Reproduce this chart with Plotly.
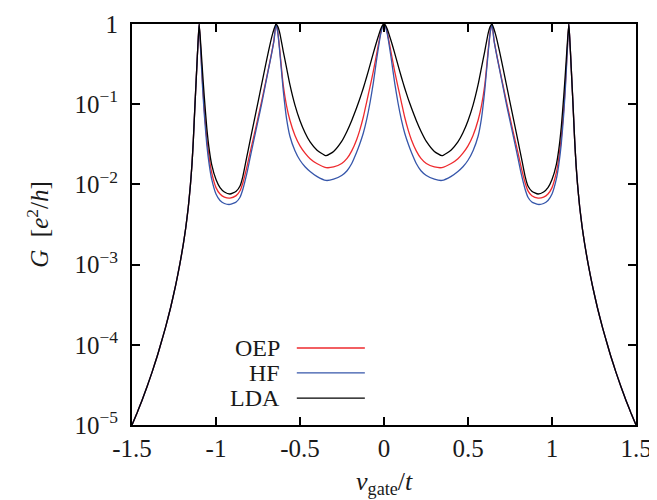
import plotly.graph_objects as go

# ---------------- data ----------------
# gate voltage grid: outer left tail, left half core, right half core, outer right tail
X_TAIL_LEFT = [-1.500, -1.470, -1.440, -1.410, -1.380, -1.350, -1.330, -1.300, -1.270, -1.240,
               -1.215, -1.195, -1.180, -1.165, -1.152, -1.143, -1.135, -1.125, -1.118, -1.111, -1.105]
X_CORE_LEFT = [-1.100, -1.090, -1.080, -1.070, -1.055, -1.040, -1.026, -1.000, -0.976, -0.950, -0.917,
               -0.880, -0.857, -0.840, -0.817, -0.798, -0.775, -0.748, -0.728, -0.708, -0.688, -0.668, -0.655, -0.643,
               -0.632, -0.620, -0.600, -0.580, -0.560, -0.530, -0.500, -0.470, -0.440, -0.400, -0.345,
               -0.300, -0.252, -0.220, -0.192, -0.163, -0.145, -0.123, -0.103, -0.083, -0.064, -0.043, -0.020, -0.010, 0.000]
X_CORE_RIGHT = [0.010, 0.020, 0.043, 0.064, 0.083, 0.103, 0.123, 0.145, 0.163, 0.192, 0.220, 0.252, 0.300,
                0.345, 0.400, 0.440, 0.470, 0.500, 0.530, 0.560, 0.580, 0.600, 0.620, 0.632,
                0.643, 0.655, 0.668, 0.688, 0.708, 0.728, 0.748, 0.775, 0.798, 0.817, 0.840, 0.857, 0.880,
                0.917, 0.950, 0.976, 1.000, 1.026, 1.040, 1.055, 1.070, 1.080, 1.090, 1.100]
X_TAIL_RIGHT = [1.105, 1.111, 1.118, 1.125, 1.135, 1.143, 1.152, 1.165, 1.180, 1.195, 1.215,
                1.240, 1.270, 1.300, 1.330, 1.350, 1.380, 1.410, 1.440, 1.470, 1.500]

# outer band-edge tails (identical for all three methods), G in e^2/h
G_TAIL_LEFT = [1.00e-5, 1.41e-5, 2.04e-5, 3.02e-5, 4.60e-5, 7.21e-5, 1.00e-4, 1.66e-4, 2.92e-4, 5.56e-4,
               1.02e-3, 1.78e-3, 2.88e-3, 5.19e-3, 1.00e-2, 1.79e-2, 3.53e-2, 0.100, 0.200, 0.398, 0.692]
G_TAIL_RIGHT = [0.692, 0.398, 0.200, 0.100, 3.53e-2, 1.79e-2, 1.00e-2, 5.19e-3, 2.88e-3, 1.78e-3, 1.02e-3,
                5.56e-4, 2.92e-4, 1.66e-4, 1.00e-4, 7.21e-5, 4.60e-5, 3.02e-5, 2.04e-5, 1.41e-5, 1.00e-5]

# LDA
LDA_LEFT = [1.0, 0.525, 0.251, 0.126, 0.0513, 0.0269, 0.0178, 0.0115, 0.00912, 0.00804, 0.00759,
            0.00822, 0.00955, 0.0126, 0.0219, 0.0343, 0.0589, 0.111, 0.178, 0.285, 0.452, 0.692, 0.861, 1.0,
            0.927, 0.764, 0.460, 0.284, 0.175, 0.0973, 0.0621, 0.0440, 0.0338, 0.0269, 0.0228,
            0.0258, 0.0344, 0.0461, 0.0628, 0.0902, 0.115, 0.159, 0.220, 0.309, 0.431, 0.610, 0.861, 0.955, 1.0]
LDA_RIGHT = [0.955, 0.861, 0.610, 0.431, 0.309, 0.220, 0.159, 0.115, 0.0902, 0.0628, 0.0461, 0.0344, 0.0258,
             0.0228, 0.0269, 0.0338, 0.0440, 0.0621, 0.0973, 0.175, 0.284, 0.460, 0.764, 0.927,
             1.0, 0.861, 0.692, 0.452, 0.285, 0.178, 0.111, 0.0589, 0.0343, 0.0219, 0.0126, 0.00955, 0.00822,
             0.00759, 0.00804, 0.00912, 0.0115, 0.0178, 0.0269, 0.0513, 0.126, 0.251, 0.525, 1.0]

# OEP
OEP_LEFT = [1.0, 0.437, 0.182, 0.0871, 0.0372, 0.0209, 0.0141, 0.00912, 0.00759, 0.00695, 0.00676,
            0.00724, 0.00832, 0.0105, 0.0162, 0.0245, 0.0398, 0.0708, 0.110, 0.174, 0.275, 0.447, 0.631, 1.0,
            0.794, 0.468, 0.174, 0.0955, 0.0631, 0.0407, 0.0302, 0.0245, 0.0209, 0.0182, 0.0162,
            0.0165, 0.0182, 0.0211, 0.0262, 0.0361, 0.0468, 0.0692, 0.107, 0.166, 0.254, 0.432, 0.776, 0.923, 1.0]
OEP_RIGHT = [0.923, 0.776, 0.432, 0.254, 0.166, 0.107, 0.0692, 0.0468, 0.0361, 0.0262, 0.0211, 0.0182, 0.0165,
             0.0162, 0.0182, 0.0209, 0.0245, 0.0302, 0.0407, 0.0631, 0.0955, 0.174, 0.468, 0.794,
             1.0, 0.631, 0.447, 0.275, 0.174, 0.110, 0.0708, 0.0398, 0.0245, 0.0162, 0.0105, 0.00832, 0.00724,
             0.00676, 0.00695, 0.00759, 0.00912, 0.0141, 0.0209, 0.0372, 0.0871, 0.182, 0.437, 1.0]

# HF
HF_LEFT = [1.0, 0.417, 0.162, 0.0759, 0.0316, 0.0174, 0.0117, 0.00759, 0.00631, 0.00578, 0.00562,
           0.00603, 0.00692, 0.00871, 0.0135, 0.0209, 0.0355, 0.0646, 0.102, 0.166, 0.269, 0.437, 0.617, 1.0,
           0.776, 0.437, 0.151, 0.0661, 0.0398, 0.0263, 0.0200, 0.0166, 0.0145, 0.0126, 0.0112,
           0.0116, 0.0129, 0.0148, 0.0182, 0.0251, 0.0316, 0.0437, 0.0646, 0.105, 0.182, 0.372, 0.741, 0.912, 1.0]
HF_RIGHT = [0.912, 0.741, 0.372, 0.182, 0.105, 0.0646, 0.0437, 0.0316, 0.0251, 0.0182, 0.0148, 0.0129, 0.0116,
            0.0112, 0.0126, 0.0145, 0.0166, 0.0200, 0.0263, 0.0398, 0.0661, 0.151, 0.437, 0.776,
            1.0, 0.617, 0.437, 0.269, 0.166, 0.102, 0.0646, 0.0355, 0.0209, 0.0135, 0.00871, 0.00692, 0.00603,
            0.00562, 0.00578, 0.00631, 0.00759, 0.0117, 0.0174, 0.0316, 0.0759, 0.162, 0.417, 1.0]

X_TICKS = [-1.5, -1.0, -0.5, 0.0, 0.5, 1.0, 1.5]
X_TICK_TEXT = ["-1.5", "-1", "-0.5", "0", "0.5", "1", "1.5"]
Y_TICKS = [1e-5, 1e-4, 1e-3, 1e-2, 1e-1, 1]
Y_TICK_TEXT = ["10<sup>−5</sup>", "10<sup>−4</sup>", "10<sup>−3</sup>",
               "10<sup>−2</sup>", "10<sup>−1</sup>", "1"]

SERIES = [("OEP", OEP_LEFT, OEP_RIGHT, "#ee2a2e"),
          ("HF", HF_LEFT, HF_RIGHT, "#3656aa"),
          ("LDA", LDA_LEFT, LDA_RIGHT, "#000000")]

# ---------------- figure ----------------
x_all = X_TAIL_LEFT + X_CORE_LEFT + X_CORE_RIGHT + X_TAIL_RIGHT
FONT = "Liberation Serif"
TXT = "#1a1a1a"

fig = go.Figure()
for name, core_l, core_r, col in SERIES:
    g = G_TAIL_LEFT + core_l + core_r + G_TAIL_RIGHT
    assert len(g) == len(x_all), (name, len(g), len(x_all))
    fig.add_trace(go.Scatter(x=x_all, y=g, mode="lines", name=name,
                             line=dict(color=col, width=1.3, shape="spline", smoothing=0.5),
                             showlegend=False))

axis_common = dict(showline=True, linewidth=2, linecolor="black", mirror="allticks",
                   ticks="inside", ticklen=8, tickwidth=2, tickcolor="black",
                   showgrid=False, zeroline=False, automargin=False,
                   tickfont=dict(family=FONT, size=25, color=TXT))

fig.update_xaxes(range=[-1.5, 1.5], tickvals=X_TICKS, ticktext=X_TICK_TEXT,
                 ticklabelstandoff=0, **axis_common)
fig.update_yaxes(type="log", range=[-5, 0], tickvals=Y_TICKS, ticktext=Y_TICK_TEXT,
                 ticklabelstandoff=7, **axis_common)

annotations = [
    dict(text="<i>v</i><sub>gate</sub>/<i>t</i>", x=0.5, y=-0.100, xref="paper", yref="paper",
         xanchor="center", yanchor="top", showarrow=False,
         font=dict(family=FONT, size=26, color=TXT)),
    dict(text="<i>G</i>  [<i>e</i><sup>2</sup>/<i>h</i>]", x=-0.188, y=0.5, xref="paper", yref="paper",
         xanchor="center", yanchor="middle", textangle=-90, showarrow=False,
         font=dict(family=FONT, size=25, color=TXT)),
]
shapes = []
legend_y = [0.192, 0.130, 0.067]
for (name, _, _, col), ly in zip(SERIES, legend_y):
    annotations.append(dict(text=name, x=0.298, y=ly, xref="paper", yref="paper",
                            xanchor="right", yanchor="middle", showarrow=False,
                            font=dict(family=FONT, size=24, color=TXT)))
    shapes.append(dict(type="line", xref="paper", yref="paper", x0=0.327, x1=0.462,
                       y0=ly, y1=ly, line=dict(color=col, width=1.3)))

# the page adds an 8 px body margin; size and margins compensate so the plot box
# lands at the same pixels as in the reference (x 132..636, y 24..425)
fig.update_layout(width=649, height=492,
                  margin=dict(l=124, r=21, t=16, b=75, autoexpand=False),
                  plot_bgcolor="white", paper_bgcolor="white",
                  annotations=annotations, shapes=shapes, showlegend=False)

fig.write_html("out.html")
